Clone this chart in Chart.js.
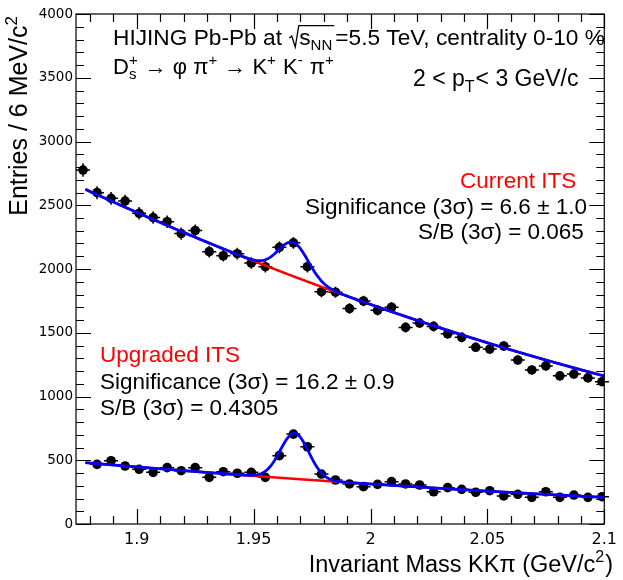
<!DOCTYPE html>
<html>
<head>
<meta charset="utf-8">
<script src="https://cdn.jsdelivr.net/npm/chart.js@4.4.1/dist/chart.umd.min.js"></script>
<style>
  html, body { margin: 0; padding: 0; background: #fff; }
  canvas { display: block; }
</style>
</head>
<body>
<canvas id="massChart" width="623" height="580"></canvas>
<script>
// KK pi invariant mass, 6 MeV/c2 bins
const binCenters = [1.877, 1.883, 1.889, 1.895, 1.901, 1.907, 1.913, 1.919, 1.925, 1.931,
  1.937, 1.943, 1.949, 1.955, 1.961, 1.967, 1.973, 1.979, 1.985, 1.991,
  1.997, 2.003, 2.009, 2.015, 2.021, 2.027, 2.033, 2.039, 2.045, 2.051,
  2.057, 2.063, 2.069, 2.075, 2.081, 2.087, 2.093, 2.099];

const currentIts = [2776, 2599, 2554, 2533, 2437, 2403, 2371, 2278, 2302, 2136,
  2104, 2120, 2047, 2018, 2170, 2205, 2018, 1822, 1818, 1690,
  1749, 1676, 1700, 1542, 1576, 1550, 1492, 1464, 1386, 1372,
  1396, 1286, 1208, 1240, 1162, 1176, 1146, 1116];

const upgradedIts = [null, 468, 496, 455, 429, 405, 442, 418, 442, 366,
  410, 398, 405, 366, 536, 705, 606, 392, 345, 314,
  293, 311, 332, 314, 306, 253, 285, 272, 249, 261,
  220, 233, 209, 253, 209, 227, 209, 214];

// fit: pol2 background in (m - fitRange[0]) plus gaussian [amplitude, mean, sigma]
const fitRange = [1.878, 2.1];
const currentBkg = [2625, -8386, 8071];
const currentPeak = [265, 1.967, 0.0064];
const upgradedBkg = [481, -1544, 1437];
const upgradedPeak = [357, 1.9675, 0.0061];

const xTicks = [1.9, 1.95, 2, 2.05, 2.1];
const xTickLabels = ["1.9", "1.95", "2", "2.05", "2.1"];
const yTicks = [0, 500, 1000, 1500, 2000, 2500, 3000, 3500, 4000];

const FONT = '"Liberation Sans", Arial, sans-serif';

function bkg(p, m) {
  const t = m - fitRange[0];
  return p[0] + p[1] * t + p[2] * t * t;
}
function gaus(p, m) {
  const d = (m - p[1]) / p[2];
  return p[0] * Math.exp(-0.5 * d * d);
}
function curve(fn) {
  const pts = [];
  for (let m = fitRange[0]; m <= fitRange[1] + 1e-9; m += 0.0005) pts.push({ x: m, y: fn(m) });
  return pts;
}
function points(vals) {
  return vals.map((v, i) => ({ x: binCenters[i], y: v })).filter(p => p.y != null);
}

// text with sub/superscripts and a square root
function rich(ctx, x, y, parts, size, draw) {
  for (const p of parts) {
    if (typeof p === "string") {
      ctx.font = size + "px " + FONT;
      if (draw) ctx.fillText(p, x, y);
      x += ctx.measureText(p).width;
    } else if (p.root) {
      const x0 = x;
      const end = rich(ctx, x + 11, y, p.root, size, draw);
      if (draw) {
        ctx.save();
        ctx.lineWidth = 1.3;
        ctx.strokeStyle = ctx.fillStyle;
        ctx.beginPath();
        ctx.moveTo(x0 + 1, y - 7);
        ctx.lineTo(x0 + 3.5, y - 9);
        ctx.lineTo(x0 + 7, y + 2);
        ctx.lineTo(x0 + 10.5, y - size * 0.85);
        ctx.lineTo(end + 1, y - size * 0.85);
        ctx.stroke();
        ctx.restore();
      }
      x = end + 2;
    } else {
      const s = Math.round(size * 0.68);
      ctx.font = s + "px " + FONT;
      let w = 0;
      if (p.sup) {
        if (draw) ctx.fillText(p.sup, x, y - size * 0.42);
        w = Math.max(w, ctx.measureText(p.sup).width);
      }
      if (p.sub) {
        if (draw) ctx.fillText(p.sub, x, y + size * 0.24);
        w = Math.max(w, ctx.measureText(p.sub).width);
      }
      x += w + 1;
    }
  }
  return x;
}
function label(ctx, x, y, parts, size, color, align) {
  ctx.save();
  ctx.fillStyle = color;
  ctx.textAlign = "left";
  ctx.textBaseline = "alphabetic";
  if (align === "right") x -= rich(ctx, 0, y, parts, size, false);
  rich(ctx, x, y, parts, size, true);
  ctx.restore();
}

const errorBars = {
  id: "errorBars",
  beforeDatasetsDraw(chart) {
    const ctx = chart.ctx, xs = chart.scales.x, ys = chart.scales.y;
    ctx.save();
    ctx.strokeStyle = "#000";
    ctx.lineWidth = 1.5;
    [currentIts, upgradedIts].forEach(vals => {
      vals.forEach((v, i) => {
        if (v == null) return;
        const m = binCenters[i];
        const y = ys.getPixelForValue(v);
        const x = xs.getPixelForValue(m);
        ctx.beginPath();
        ctx.moveTo(xs.getPixelForValue(m - 0.003), y);
        ctx.lineTo(xs.getPixelForValue(m + 0.003), y);
        ctx.moveTo(x, ys.getPixelForValue(v - Math.sqrt(v)));
        ctx.lineTo(x, ys.getPixelForValue(v + Math.sqrt(v)));
        ctx.stroke();
      });
    });
    ctx.restore();
  }
};

const frame = {
  id: "frame",
  afterDraw(chart) {
    const ctx = chart.ctx, xs = chart.scales.x, ys = chart.scales.y;
    const a = chart.chartArea;
    ctx.save();
    ctx.strokeStyle = "#000";
    ctx.lineWidth = 1.2;
    ctx.strokeRect(a.left, a.top, a.right - a.left, a.bottom - a.top);
    ctx.beginPath();
    for (let k = 188; k <= 210; k++) {
      const m = k / 100;
      const x = Math.round(xs.getPixelForValue(m)) + 0.5;
      const len = k % 5 === 0 ? 15 : 8;
      ctx.moveTo(x, a.bottom); ctx.lineTo(x, a.bottom - len);
      ctx.moveTo(x, a.top); ctx.lineTo(x, a.top + len);
    }
    for (let v = 0; v <= 4000; v += 100) {
      const y = Math.round(ys.getPixelForValue(v)) + 0.5;
      const len = v % 500 === 0 ? 15 : 8;
      ctx.moveTo(a.left, y); ctx.lineTo(a.left + len, y);
      ctx.moveTo(a.right, y); ctx.lineTo(a.right - len, y);
    }
    ctx.stroke();
    ctx.restore();

    const black = "#000", red = "#ff0000";
    label(ctx, 113, 45, ["HIJING Pb-Pb at ", { root: ["s", { sub: "NN" }] }, "=5.5 TeV, centrality 0-10 %"], 22.7, black);
    label(ctx, 113, 74, ["D", { sub: "s", sup: "+" }, " \u2192 \u03c6 \u03c0", { sup: "+" }, " \u2192 K", { sup: "+" }, " K", { sup: "-" }, " \u03c0", { sup: "+" }], 22, black);
    label(ctx, 413, 86, ["2 < p", { sub: "T" }, "< 3 GeV/c"], 23, black);

    label(ctx, 460, 188, ["Current ITS"], 22.5, red);
    label(ctx, 305, 214, ["Significance (3\u03c3) = 6.6 \u00b1 1.0"], 22.5, black);
    label(ctx, 418, 239, ["S/B (3\u03c3) = 0.065"], 22.5, black);

    label(ctx, 100, 362, ["Upgraded ITS"], 22.5, red);
    label(ctx, 100, 389, ["Significance (3\u03c3) = 16.2 \u00b1 0.9"], 22.5, black);
    label(ctx, 100, 415, ["S/B (3\u03c3) = 0.4305"], 22.5, black);

    // axis titles
    label(ctx, 613, 572, ["Invariant Mass KK\u03c0 (GeV/c", { sup: "2" }, ")"], 23.5, black, "right");
    ctx.save();
    ctx.translate(27, 15);
    ctx.rotate(-Math.PI / 2);
    label(ctx, 0, 0, ["Entries / 6 MeV/c", { sup: "2" }], 25, black, "right");
    ctx.restore();
  }
};

// lower order is drawn on top: fit lines over the markers
function lineSet(data, color, width, order) {
  return { data, order, showLine: true, borderColor: color, borderWidth: width, pointRadius: 0, fill: false, tension: 0 };
}
function markerSet(data) {
  return { data, order: 3, backgroundColor: "#000", borderColor: "#000", pointRadius: 4.8, pointBorderWidth: 0 };
}

new Chart(document.getElementById("massChart"), {
  type: "scatter",
  data: {
    datasets: [
      markerSet(points(currentIts)),
      markerSet(points(upgradedIts)),
      lineSet(curve(m => bkg(currentBkg, m)), "#ff0000", 2.5, 2),
      lineSet(curve(m => bkg(upgradedBkg, m)), "#ff0000", 2.5, 2),
      lineSet(curve(m => bkg(currentBkg, m) + gaus(currentPeak, m)), "#0000ff", 2.8, 1),
      lineSet(curve(m => bkg(upgradedBkg, m) + gaus(upgradedPeak, m)), "#0000ff", 2.8, 1)
    ]
  },
  options: {
    responsive: false,
    animation: false,
    devicePixelRatio: 1,
    layout: { padding: { left: 0, right: 12, top: 14, bottom: 0 } },
    plugins: { legend: { display: false }, tooltip: { enabled: false } },
    scales: {
      x: {
        type: "linear",
        min: 1.874,
        max: 2.1,
        grid: { display: false, drawTicks: false },
        border: { display: false },
        afterBuildTicks: s => { s.ticks = xTicks.map(v => ({ value: v })); },
        afterFit: s => { s.height = 56; },
        ticks: {
          padding: 6,
          color: "#000",
          font: { family: "DejaVu Sans", size: 16 },
          callback: (v, i) => xTickLabels[i]
        }
      },
      y: {
        min: 0,
        max: 4000,
        grid: { display: false, drawTicks: false },
        border: { display: false },
        afterBuildTicks: s => { s.ticks = yTicks.map(v => ({ value: v })); },
        afterFit: s => { s.width = 76; },
        ticks: {
          padding: 3,
          color: "#000",
          font: { family: "DejaVu Sans", size: 13.5 },
          callback: v => String(v)
        }
      }
    }
  },
  plugins: [errorBars, frame]
});
</script>
</body>
</html>
